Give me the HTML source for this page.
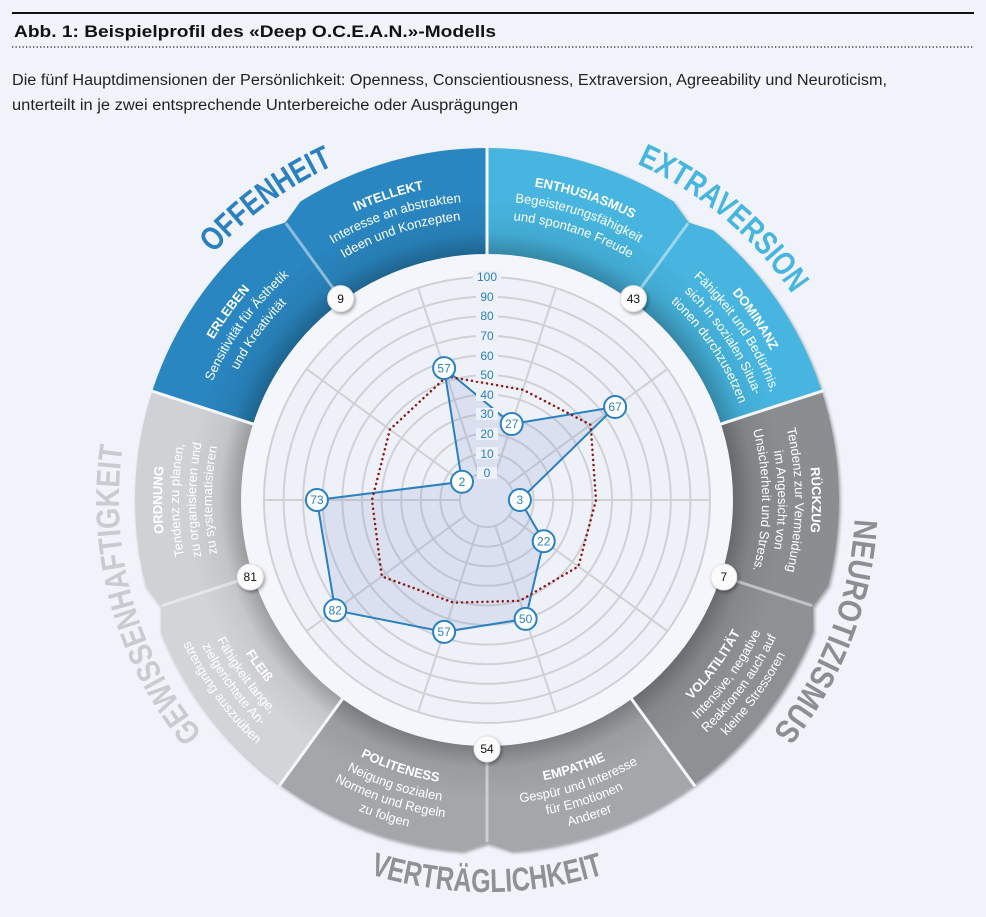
<!DOCTYPE html>
<html><head><meta charset="utf-8"><style>
html,body{margin:0;padding:0;background:#f0f4fa;}
svg{display:block;font-family:"Liberation Sans",sans-serif;}
</style></head><body>
<svg width="986" height="917" viewBox="0 0 986 917" xmlns="http://www.w3.org/2000/svg">
<defs>
<path id="segA" d="M411.3,267 L378.2,165.2 A352,352 0 0 1 572.2,158.5 L593,173.8 L562.7,267 A245,245 0 0 0 411.3,267 Z"/>
<path id="segB" d="M562.7,267 L595.8,165.2 A352,352 0 0 0 401.8,158.5 L381,173.8 L411.3,267 A245,245 0 0 1 562.7,267 Z"/>
<radialGradient id="shade" gradientUnits="userSpaceOnUse" cx="487" cy="500" r="352">
<stop offset="0.69" stop-color="#000" stop-opacity="0.28"/>
<stop offset="0.76" stop-color="#000" stop-opacity="0.06"/>
<stop offset="0.85" stop-color="#000" stop-opacity="0"/>
<stop offset="1" stop-color="#000" stop-opacity="0"/>
</radialGradient>
<path id="T259" d="M320.5,301.6 A259,259 0 0 1 653.5,301.6"/>
<path id="T270" d="M313.4,293.2 A270,270 0 0 1 660.6,293.2"/>
<path id="T275" d="M310.2,289.3 A275,275 0 0 1 663.8,289.3"/>
<path id="T281" d="M306.4,284.8 A281,281 0 0 1 667.6,284.8"/>
<path id="T287" d="M302.5,280.2 A287,287 0 0 1 671.5,280.2"/>
<path id="T291" d="M299.9,277.1 A291,291 0 0 1 674.1,277.1"/>
<path id="T299" d="M294.8,271 A299,299 0 0 1 679.2,271"/>
<path id="T304" d="M291.6,267.1 A304,304 0 0 1 682.4,267.1"/>
<path id="T308" d="M289,264.1 A308,308 0 0 1 685,264.1"/>
<path id="T317" d="M283.2,257.2 A317,317 0 0 1 690.8,257.2"/>
<path id="T321" d="M280.7,254.1 A321,321 0 0 1 693.3,254.1"/>
<path id="T325" d="M278.1,251 A325,325 0 0 1 695.9,251"/>
<path id="T368" d="M250.4,218.1 A368,368 0 0 1 723.6,218.1"/>
<path id="B286" d="M303.2,719.1 A286,286 0 0 0 670.8,719.1"/>
<path id="B304" d="M291.6,732.9 A304,304 0 0 0 682.4,732.9"/>
<path id="B320" d="M281.3,745.1 A320,320 0 0 0 692.7,745.1"/>
<path id="B336" d="M271,757.4 A336,336 0 0 0 703,757.4"/>
<path id="B392" d="M235,800.3 A392,392 0 0 0 739,800.3"/>
<filter id="sh" x="-20%" y="-20%" width="140%" height="140%"><feDropShadow dx="1.5" dy="2" stdDeviation="1.5" flood-color="#000" flood-opacity="0.35"/></filter>
</defs>

<!-- header -->
<line x1="12" y1="13" x2="974" y2="13" stroke="#111" stroke-width="2"/>
<text x="14" y="37" font-size="17" font-weight="bold" fill="#111" textLength="482" lengthAdjust="spacingAndGlyphs">Abb. 1: Beispielprofil des «Deep O.C.E.A.N.»-Modells</text>
<line x1="12" y1="47" x2="974" y2="47" stroke="#222" stroke-width="1.3" stroke-dasharray="1.3 2.2"/>
<text x="12" y="85" font-size="15.5" fill="#222" textLength="875" lengthAdjust="spacingAndGlyphs">Die fünf Hauptdimensionen der Persönlichkeit: Openness, Conscientiousness, Extraversion, Agreeability und Neuroticism,</text>
<text x="12" y="110" font-size="15.5" fill="#222" textLength="506" lengthAdjust="spacingAndGlyphs">unterteilt in je zwei entsprechende Unterbereiche oder Ausprägungen</text>

<!-- segments -->
<g filter="url(#sh)">
<use href="#segA" fill="#2b86c0" transform="rotate(-54 487 500)"/>
<use href="#segB" fill="#2b86c0" transform="rotate(-18 487 500)"/>
<use href="#segA" fill="#46b5df" transform="rotate(18 487 500)"/>
<use href="#segB" fill="#46b5df" transform="rotate(54 487 500)"/>
<use href="#segA" fill="#8b8e91" transform="rotate(90 487 500)"/>
<use href="#segB" fill="#8e9194" transform="rotate(126 487 500)"/>
<use href="#segA" fill="#a4a7aa" transform="rotate(162 487 500)"/>
<use href="#segB" fill="#a4a7aa" transform="rotate(198 487 500)"/>
<use href="#segA" fill="#d2d4d7" transform="rotate(234 487 500)"/>
<use href="#segB" fill="#cfd1d4" transform="rotate(270 487 500)"/>
</g>
<g fill="url(#shade)">
<use href="#segA" transform="rotate(-54 487 500)"/>
<use href="#segB" transform="rotate(-18 487 500)"/>
<use href="#segA" transform="rotate(18 487 500)"/>
<use href="#segB" transform="rotate(54 487 500)"/>
<use href="#segA" transform="rotate(90 487 500)"/>
<use href="#segB" transform="rotate(126 487 500)"/>
<use href="#segA" transform="rotate(162 487 500)"/>
<use href="#segB" transform="rotate(198 487 500)"/>
<use href="#segA" transform="rotate(234 487 500)"/>
<use href="#segB" transform="rotate(270 487 500)"/>
</g>
<!-- boundary lines -->
<g stroke="#f3f6fb" stroke-width="3">
<line x1="487" y1="255" x2="487" y2="146" transform="rotate(0 487 500)"/>
<line x1="487" y1="255" x2="487" y2="146" transform="rotate(72 487 500)"/>
<line x1="487" y1="255" x2="487" y2="146" transform="rotate(144 487 500)"/>
<line x1="487" y1="255" x2="487" y2="146" transform="rotate(216 487 500)"/>
<line x1="487" y1="255" x2="487" y2="146" transform="rotate(288 487 500)"/>
</g>
<g stroke="#ffffff" stroke-opacity="0.45" stroke-width="3">
<line x1="487" y1="255" x2="487" y2="158" transform="rotate(-36 487 500)"/>
<line x1="487" y1="255" x2="487" y2="158" transform="rotate(36 487 500)"/>
<line x1="487" y1="255" x2="487" y2="158" transform="rotate(108 487 500)"/>
<line x1="487" y1="255" x2="487" y2="158" transform="rotate(180 487 500)"/>
<line x1="487" y1="255" x2="487" y2="158" transform="rotate(252 487 500)"/>
</g>

<!-- inner circle -->
<circle cx="487" cy="500" r="246" fill="#f4f6fb"/>
<circle cx="487" cy="500" r="223" fill="#eef1f8"/>
<g fill="none" stroke="#cfd1d5" stroke-width="2">
<circle cx="487" cy="500" r="27"/><circle cx="487" cy="500" r="46.6"/><circle cx="487" cy="500" r="66.2"/>
<circle cx="487" cy="500" r="85.8"/><circle cx="487" cy="500" r="105.4"/><circle cx="487" cy="500" r="125"/>
<circle cx="487" cy="500" r="144.6"/><circle cx="487" cy="500" r="164.2"/><circle cx="487" cy="500" r="183.8"/>
<circle cx="487" cy="500" r="203.4"/><circle cx="487" cy="500" r="223"/>
</g>
<g stroke="#cfd1d5" stroke-width="2">
<line x1="487" y1="473" x2="487" y2="277" transform="rotate(18 487 500)"/>
<line x1="487" y1="473" x2="487" y2="277" transform="rotate(54 487 500)"/>
<line x1="487" y1="473" x2="487" y2="277" transform="rotate(90 487 500)"/>
<line x1="487" y1="473" x2="487" y2="277" transform="rotate(126 487 500)"/>
<line x1="487" y1="473" x2="487" y2="277" transform="rotate(162 487 500)"/>
<line x1="487" y1="473" x2="487" y2="277" transform="rotate(198 487 500)"/>
<line x1="487" y1="473" x2="487" y2="277" transform="rotate(234 487 500)"/>
<line x1="487" y1="473" x2="487" y2="277" transform="rotate(270 487 500)"/>
<line x1="487" y1="473" x2="487" y2="277" transform="rotate(306 487 500)"/>
<line x1="487" y1="473" x2="487" y2="277" transform="rotate(342 487 500)"/>
</g>

<!-- data area -->
<polygon points="444.1,368.1 511.7,424 615.1,407 519.9,500 543.7,541.2 525.6,618.9 444.1,631.9 335.2,610.3 316.9,500 462,481.8" fill="#5a74c0" fill-opacity="0.13" stroke="#2a80c0" stroke-width="2" stroke-linejoin="round"/>
<!-- average dotted -->
<polygon points="446.8,376.4 522.8,389.7 590.6,424.8 596,500 578.4,566.4 519.8,600.8 453.6,602.7 381.8,576.4 372,500 389.9,429.5" fill="none" stroke="#8b1a12" stroke-width="2.5" stroke-dasharray="0.1 5" stroke-linecap="round" stroke-linejoin="round"/>

<!-- scale labels -->
<g font-size="12" fill="#2a80c0" text-anchor="middle">
<rect x="477" y="467" width="20" height="12" fill="#eef1f8"/><text x="487" y="477">0</text>
<rect x="476" y="447" width="22" height="12" fill="#eef1f8"/><text x="487" y="458">10</text>
<rect x="476" y="428" width="22" height="12" fill="#eef1f8"/><text x="487" y="438">20</text>
<rect x="476" y="408" width="22" height="12" fill="#eef1f8"/><text x="487" y="418">30</text>
<rect x="476" y="389" width="22" height="12" fill="#eef1f8"/><text x="487" y="399">40</text>
<rect x="476" y="369" width="22" height="12" fill="#eef1f8"/><text x="487" y="379">50</text>
<rect x="476" y="349" width="22" height="12" fill="#eef1f8"/><text x="487" y="360">60</text>
<rect x="476" y="330" width="22" height="12" fill="#eef1f8"/><text x="487" y="340">70</text>
<rect x="476" y="310" width="22" height="12" fill="#eef1f8"/><text x="487" y="320">80</text>
<rect x="476" y="291" width="22" height="12" fill="#eef1f8"/><text x="487" y="301">90</text>
<rect x="473" y="271" width="28" height="12" fill="#eef1f8"/><text x="487" y="281">100</text>
</g>

<!-- data points -->
<g fill="#fff" stroke="#2a80c0" stroke-width="2">
<circle cx="444.1" cy="368.1" r="11"/><circle cx="511.7" cy="424" r="11"/><circle cx="615.1" cy="407" r="11"/>
<circle cx="519.9" cy="500" r="11"/><circle cx="543.7" cy="541.2" r="11"/><circle cx="525.6" cy="618.9" r="11"/>
<circle cx="444.1" cy="631.9" r="11"/><circle cx="335.2" cy="610.3" r="11"/><circle cx="316.9" cy="500" r="11"/>
<circle cx="462" cy="481.8" r="11"/>
</g>
<g font-size="12" fill="#2a80c0" text-anchor="middle">
<text x="444.1" y="372.3">57</text><text x="511.7" y="428.2">27</text><text x="615.1" y="411.2">67</text>
<text x="519.9" y="504.2">3</text><text x="543.7" y="545.4">22</text><text x="525.6" y="623.1">50</text>
<text x="444.1" y="636.1">57</text><text x="335.2" y="614.5">82</text><text x="316.9" y="504.2">73</text>
<text x="462" y="486">2</text>
</g>

<!-- number badges -->
<g filter="url(#sh)" fill="#fbfbfc" stroke="#e0e2e6" stroke-width="1">
<circle cx="340.6" cy="298.6" r="13"/><circle cx="633.4" cy="298.6" r="13"/><circle cx="723.8" cy="577" r="13"/>
<circle cx="487" cy="749" r="13"/><circle cx="250.2" cy="577" r="13"/>
</g>
<g font-size="12" fill="#111" text-anchor="middle">
<text x="340.6" y="302.8">9</text><text x="633.4" y="302.8">43</text><text x="723.8" y="581.2">7</text>
<text x="487" y="753.2">54</text><text x="250.2" y="581.2">81</text>
</g>

<!-- segment texts -->
<g font-size="13" fill="#fff" text-anchor="middle">
<g transform="rotate(-18 487 500)">
<text font-weight="bold"><textPath href="#T317" startOffset="50%">INTELLEKT</textPath></text>
<text><textPath href="#T299" startOffset="50%">Interesse an abstrakten</textPath></text>
<text><textPath href="#T281" startOffset="50%">Ideen und Konzepten</textPath></text>
</g>
<g transform="rotate(18 487 500)">
<text font-weight="bold"><textPath href="#T317" startOffset="50%">ENTHUSIASMUS</textPath></text>
<text><textPath href="#T299" startOffset="50%">Begeisterungsfähigkeit</textPath></text>
<text><textPath href="#T281" startOffset="50%">und spontane Freude</textPath></text>
</g>
<g transform="rotate(-54 487 500)">
<text font-weight="bold"><textPath href="#T317" startOffset="50%">ERLEBEN</textPath></text>
<text><textPath href="#T299" startOffset="50%">Sensitivität für Ästhetik</textPath></text>
<text><textPath href="#T281" startOffset="50%">und Kreativität</textPath></text>
</g>
<g transform="rotate(56 487 500)">
<text font-weight="bold"><textPath href="#T321" startOffset="50%">DOMINANZ</textPath></text>
<text><textPath href="#T304" startOffset="50%">Fähigkeit und Bedürfnis,</textPath></text>
<text><textPath href="#T287" startOffset="50%">sich in sozialen Situa-</textPath></text>
<text><textPath href="#T270" startOffset="50%">tionen durchzusetzen</textPath></text>
</g>
<g transform="rotate(90 487 500)">
<text font-weight="bold"><textPath href="#T325" startOffset="50%">RÜCKZUG</textPath></text>
<text><textPath href="#T308" startOffset="50%">Tendenz zur Vermeidung</textPath></text>
<text><textPath href="#T291" startOffset="50%">im Angesicht von</textPath></text>
<text><textPath href="#T275" startOffset="50%">Unsicherheit und Stress.</textPath></text>
</g>
<g transform="rotate(270 487 500)">
<text font-weight="bold"><textPath href="#T325" startOffset="50%">ORDNUNG</textPath></text>
<text><textPath href="#T308" startOffset="50%">Tendenz zu planen,</textPath></text>
<text><textPath href="#T291" startOffset="50%">zu organisieren und</textPath></text>
<text><textPath href="#T275" startOffset="50%">zu systematisieren</textPath></text>
</g>
<g transform="rotate(-54 487 500)">
<text font-weight="bold"><textPath href="#B286" startOffset="50%">VOLATILITÄT</textPath></text>
<text><textPath href="#B304" startOffset="50%">Intensive, negative</textPath></text>
<text><textPath href="#B320" startOffset="50%">Reaktionen auch auf</textPath></text>
<text><textPath href="#B336" startOffset="50%">kleine Stressoren</textPath></text>
</g>
<g transform="rotate(-18 487 500)">
<text font-weight="bold"><textPath href="#B286" startOffset="50%">EMPATHIE</textPath></text>
<text><textPath href="#B304" startOffset="50%">Gespür und Interesse</textPath></text>
<text><textPath href="#B320" startOffset="50%">für Emotionen</textPath></text>
<text><textPath href="#B336" startOffset="50%">Anderer</textPath></text>
</g>
<g transform="rotate(18 487 500)">
<text font-weight="bold"><textPath href="#B286" startOffset="50%">POLITENESS</textPath></text>
<text><textPath href="#B304" startOffset="50%">Neigung sozialen</textPath></text>
<text><textPath href="#B320" startOffset="50%">Normen und Regeln</textPath></text>
<text><textPath href="#B336" startOffset="50%">zu folgen</textPath></text>
</g>
<g transform="rotate(54 487 500)">
<text font-weight="bold"><textPath href="#B286" startOffset="50%">FLEIß</textPath></text>
<text><textPath href="#B304" startOffset="50%">Fähigkeit lange,</textPath></text>
<text><textPath href="#B320" startOffset="50%">zielgerichtete An-</textPath></text>
<text><textPath href="#B336" startOffset="50%">strengung auszuüben</textPath></text>
</g>
</g>

<!-- dimension labels -->
<g font-size="33" font-weight="bold" text-anchor="middle">
<g transform="rotate(-36.3 487 500)"><text fill="#2b80bf" textLength="150" lengthAdjust="spacingAndGlyphs"><textPath href="#T368" startOffset="50%">OFFENHEIT</textPath></text></g>
<g transform="rotate(40 487 500)"><text fill="#46b5df" textLength="205" lengthAdjust="spacingAndGlyphs"><textPath href="#T368" startOffset="50%">EXTRAVERSION</textPath></text></g>
<g transform="rotate(111 487 500)"><text fill="#8c8f92" textLength="232" lengthAdjust="spacingAndGlyphs"><textPath href="#T368" startOffset="50%">NEUROTIZISMUS</textPath></text></g>
<g transform="rotate(254.5 487 500)"><text fill="#c9cbce" textLength="307" lengthAdjust="spacingAndGlyphs"><textPath href="#T368" startOffset="50%">GEWISSENHAFTIGKEIT</textPath></text></g>
<g><text fill="#8f9295" textLength="238" lengthAdjust="spacingAndGlyphs"><textPath href="#B392" startOffset="50%">VERTRÄGLICHKEIT</textPath></text></g>
</g>
</svg>
</body></html>
